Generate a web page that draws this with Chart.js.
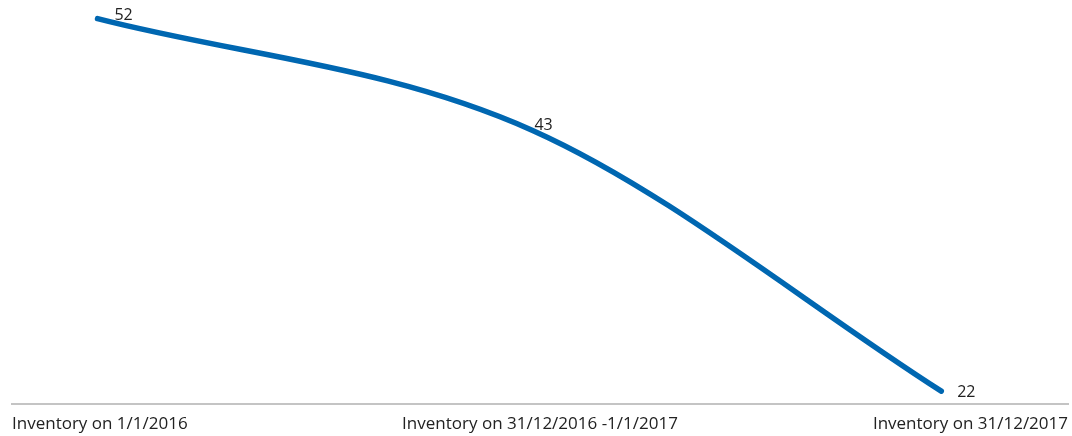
<!DOCTYPE html>
<html>
<head>
<meta charset="utf-8">
<script src="https://cdn.jsdelivr.net/npm/chart.js@4"></script>
<style>
  html, body { margin: 0; padding: 0; background: #fff; }
  #wrap { width: 1072px; height: 436px; }
</style>
</head>
<body>
<div id="wrap"><canvas id="inventory"></canvas></div>
<script>
const labels = ['Inventory on 1/1/2016', 'Inventory on 31/12/2016 -1/1/2017', 'Inventory on 31/12/2017'];
const inventory = [52, 43, 22];
// where each point sits along the axis (0 = left end, 100 = right end)
const xPos = [8.1, 49.3, 88.0];

// label offsets from each point, px
const labelOffsets = [[26, -3], [11, -5], [25, 1]];

const valueLabels = {
    id: 'valueLabels',
    afterDatasetsDraw(chart) {
        const c = chart.ctx;
        const meta = chart.getDatasetMeta(0);
        c.save();
        c.font = '16px "Open Sans"';
        c.fillStyle = '#222';
        c.textAlign = 'center';
        c.textBaseline = 'middle';
        meta.data.forEach((pt, i) => {
            c.fillText(inventory[i], pt.x + labelOffsets[i][0], pt.y + labelOffsets[i][1]);
        });
        c.restore();
    }
};

const ctx = document.getElementById('inventory');

new Chart(ctx, {
    type: 'line',
    data: {
        labels: labels,
        datasets: [{
            label: 'Inventory',
            data: inventory.map((v, i) => ({ x: xPos[i], y: v })),
            xAxisID: 'xp',
            borderColor: '#0067b1',
            borderWidth: 5.5,
            borderCapStyle: 'round',
            pointRadius: 0,
            cubicInterpolationMode: 'monotone',
            fill: false
        }]
    },
    options: {
        responsive: true,
        maintainAspectRatio: false,
        animation: false,
        layout: { padding: { left: 12, right: 4, top: 0, bottom: 0 } },
        plugins: {
            legend: { display: false },
            tooltip: { enabled: false }
        },
        scales: {
            x: {
                type: 'category',
                offset: false,
                grid: { display: false, drawTicks: true, tickLength: 8 },
                border: { display: true, color: '#c4c4c4', width: 2 },
                ticks: {
                    align: 'inner',
                    maxRotation: 0,
                    autoSkip: false,
                    padding: 2,
                    color: '#222',
                    font: { family: 'Open Sans', size: 17 }
                }
            },
            xp: {
                type: 'linear',
                display: false,
                min: 0,
                max: 100
            },
            y: {
                display: false,
                min: 21,
                max: 53.5
            }
        }
    },
    plugins: [valueLabels]
});
</script>
</body>
</html>
